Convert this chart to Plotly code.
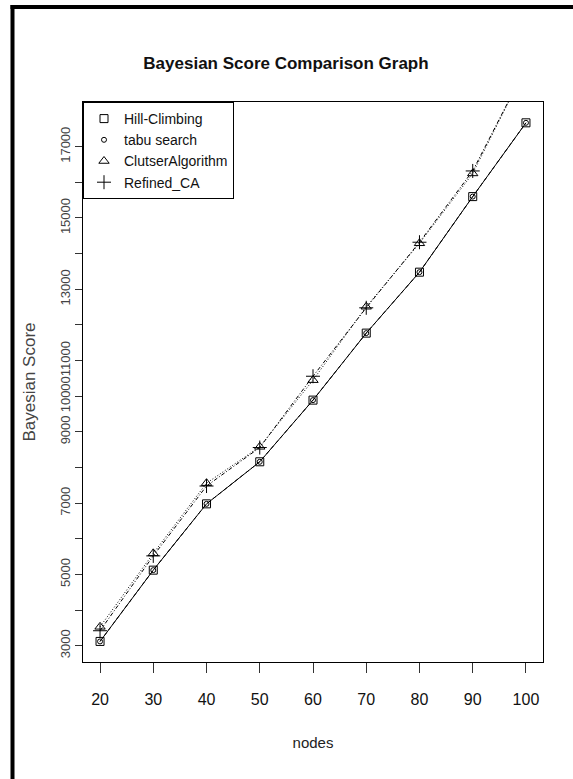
import plotly.graph_objects as go

nodes = [20, 30, 40, 50, 60, 70, 80, 90, 100]
hill_climbing = [3120, 5120, 6980, 8160, 9890, 11770, 13480, 15600, 17670]
tabu_search = [3120, 5120, 6980, 8160, 9890, 11770, 13480, 15600, 17670]
cluster_algorithm = [3530, 5590, 7560, 8580, 10450, 12510, 14290, 16250, 19230]
refined_ca = [3420, 5520, 7480, 8560, 10560, 12480, 14320, 16320, 19230]

y_tick_vals = list(range(3000, 17001, 1000))
y_tick_text = ["3000", "", "5000", "", "7000", "", "9000", "10000", "11000", "",
               "13000", "", "15000", "", "17000"]
x_tick_vals = nodes
x_tick_text = [str(v) for v in nodes]

SANS = "Liberation Sans, Arial, sans-serif"

series = [
    ("Hill-Climbing", hill_climbing, "square-open", 8, "solid"),
    ("tabu search", tabu_search, "circle-open", 5, "4px,3px"),
    ("ClutserAlgorithm", cluster_algorithm, "triangle-up-open", 9, "1px,2px"),
    ("Refined_CA", refined_ca, "cross-thin-open", 10, "4px,2px,1px,2px"),
]

fig = go.Figure()
for name, vals, sym, size, dash in series:
    fig.add_trace(go.Scatter(
        x=nodes, y=vals, mode="lines+markers", name=name, showlegend=False,
        line=dict(color="black", width=1, dash=dash),
        marker=dict(symbol=sym, size=size, color="black", line=dict(width=1, color="black")),
    ))
for name, vals, sym, size, dash in series:
    fig.add_trace(go.Scatter(
        x=[None], y=[None], mode="markers", name=name, showlegend=True,
        marker=dict(symbol=sym, size=size, color="black", line=dict(width=1, color="black")),
    ))

W, H = 573, 779
L, R, T, B = 83, 30, 102, 117
pw, ph = W - L - R, H - T - B

def px_x(px):
    return (px - L) / pw

def px_y(py):
    return (H - B - py) / ph

fig.update_layout(
    width=W, height=H,
    margin=dict(l=L, r=R, t=T, b=B),
    paper_bgcolor="white", plot_bgcolor="white",
    title=dict(text="<b>Bayesian Score Comparison Graph</b>",
               font=dict(family=SANS, size=17, color="#111"),
               x=px_x(286), xref="paper", xanchor="center",
               y=1 - 63 / H, yref="container", yanchor="middle"),
    showlegend=True,
    legend=dict(x=0, y=1, xanchor="left", yanchor="top",
                bgcolor="white", bordercolor="black", borderwidth=1,
                font=dict(family=SANS, size=14, color="#111"),
                itemwidth=30, tracegroupgap=0),
    xaxis=dict(range=[16.8, 103.2], tickmode="array", tickvals=x_tick_vals, ticktext=x_tick_text,
               ticks="outside", ticklen=10, tickcolor="#333", tickwidth=1,
               showline=True, linecolor="black", linewidth=1, mirror=True,
               showgrid=False, zeroline=False,
               tickfont=dict(family=SANS, size=16, color="#111"),
               ticklabelstandoff=13,
               title=dict(text="nodes", font=dict(family=SANS, size=15, color="#222"), standoff=30)),
    yaxis=dict(range=[2543, 18254], tickmode="array", tickvals=y_tick_vals, ticktext=y_tick_text,
               ticks="outside", ticklen=7, tickcolor="#333", tickwidth=1,
               showline=True, linecolor="black", linewidth=1, mirror=True,
               showgrid=False, zeroline=False, tickangle=-90,
               tickfont=dict(family=SANS, size=13, color="#444"),
               title=dict(text="Bayesian Score", font=dict(family=SANS, size=17, color="#444"), standoff=17)),
)

# outer black frame (left and top edges of the figure image)
fig.add_shape(type="line", xref="paper", yref="paper",
              x0=px_x(12.5), x1=px_x(12.5), y0=px_y(5), y1=px_y(H + 5),
              line=dict(color="black", width=4))
fig.add_shape(type="line", xref="paper", yref="paper",
              x0=px_x(10.5), x1=px_x(W + 5), y0=px_y(7), y1=px_y(7),
              line=dict(color="black", width=4))

fig.write_html("out.html")
